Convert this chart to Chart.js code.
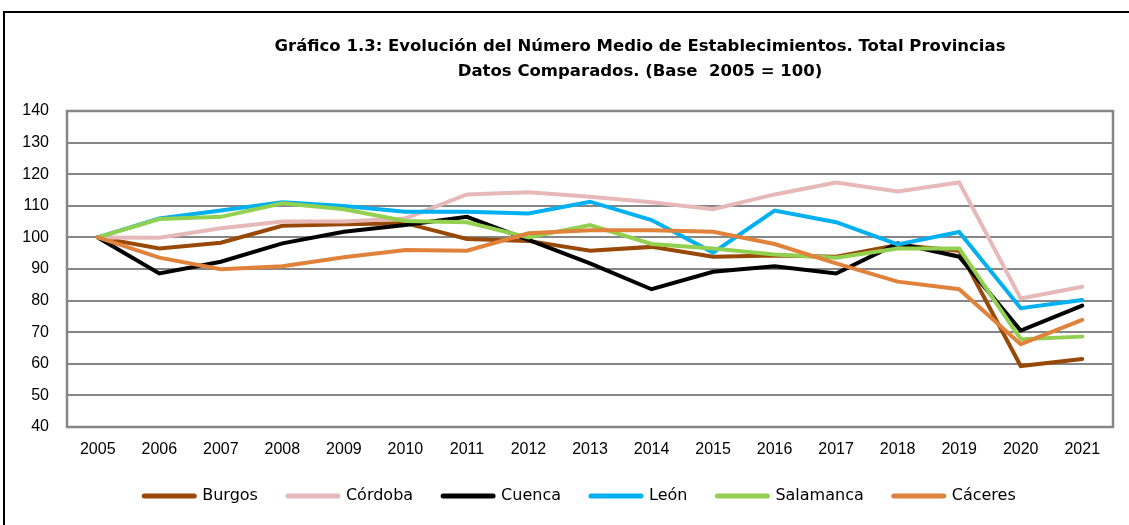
<!DOCTYPE html>
<html>
<head>
<meta charset="utf-8">
<script src="https://cdn.jsdelivr.net/npm/chart.js@4.4.1/dist/chart.umd.min.js"></script>
<style>
  html, body { margin: 0; padding: 0; background: #fff; }
  #wrap { width: 1129px; height: 525px; position: relative; }
</style>
</head>
<body>
<div id="wrap"><canvas id="c" width="1129" height="525"></canvas></div>
<script>
const years = ['2005','2006','2007','2008','2009','2010','2011','2012','2013','2014','2015','2016','2017','2018','2019','2020','2021'];
const burgos    = [100, 96.5, 98.3, 103.7, 104.2, 104.5, 99.5, 98.9, 95.8, 97.0, 93.9, 94.3, 93.9, 97.6, 95.8, 59.3, 61.5];
const cordoba   = [100, 99.9, 102.9, 105.0, 105.0, 106.0, 113.6, 114.3, 112.9, 111.1, 108.9, 113.6, 117.4, 114.5, 117.4, 80.7, 84.4];
const cuenca    = [100, 88.6, 92.3, 98.1, 101.8, 103.9, 106.5, 99.2, 91.8, 83.6, 89.1, 90.9, 88.6, 98.1, 93.9, 70.5, 78.4];
const leon      = [100, 106.0, 108.5, 111.1, 109.9, 108.1, 108.1, 107.6, 111.3, 105.5, 95.2, 108.5, 104.8, 97.8, 101.7, 77.6, 80.2];
const salamanca = [100, 105.8, 106.5, 110.8, 108.9, 105.2, 104.8, 100.0, 103.9, 97.9, 96.5, 94.6, 93.6, 96.5, 96.5, 67.8, 68.6];
const caceres   = [100, 93.6, 89.9, 90.9, 93.7, 96.0, 95.8, 101.3, 102.3, 102.3, 101.8, 97.9, 91.8, 86.0, 83.6, 66.2, 73.9];
const seriesNames = ['Burgos','Córdoba','Cuenca','León','Salamanca','Cáceres'];
const seriesData = [burgos, cordoba, cuenca, leon, salamanca, caceres];
const seriesColors = ['#984807','#E6B9B8','#000000','#00B0F0','#92D050','#E0823B'];
const titleLines = ['Gráfico 1.3: Evolución del Número Medio de Establecimientos. Total Provincias', 'Datos Comparados. (Base  2005 = 100)'];

const FONT = '"Liberation Sans", Arial, sans-serif';
const FONT2 = '"DejaVu Sans", Verdana, sans-serif';

const datasets = seriesNames.map((n, i) => ({
  label: n,
  data: seriesData[i],
  borderColor: seriesColors[i],
  backgroundColor: seriesColors[i],
  borderWidth: 4,
  borderCapStyle: 'round',
  pointRadius: 0,
  pointHoverRadius: 0,
  tension: 0,
  fill: false,
  order: seriesNames.length - 1 - i
}));

const framePlugin = {
  id: 'frame',
  afterLayout(chart) {
    if (chart.legend) {
      chart.legend.left -= 10;
      chart.legend.right -= 10;
    }
  },
  beforeDraw(chart) {
    const ctx = chart.ctx;
    ctx.save();
    ctx.fillStyle = '#fff';
    ctx.fillRect(0, 0, chart.width, chart.height);
    ctx.strokeStyle = '#000';
    ctx.lineWidth = 2;
    ctx.beginPath();
    ctx.moveTo(4, 530);
    ctx.lineTo(4, 12);
    ctx.lineTo(1135, 12);
    ctx.stroke();
    // title
    ctx.fillStyle = '#000';
    ctx.font = 'bold 16.5px ' + FONT2;
    ctx.textAlign = 'center';
    ctx.textBaseline = 'middle';
    ctx.fillText(titleLines[0], 640, 47);
    ctx.fillText(titleLines[1], 640, 72);
    ctx.restore();
  },
  beforeDatasetsDraw(chart) {
    const a = chart.chartArea;
    const ctx = chart.ctx;
    ctx.save();
    ctx.strokeStyle = '#868686';
    ctx.lineWidth = 2.5;
    ctx.strokeRect(a.left, a.top, a.right - a.left, a.bottom - a.top);
    ctx.restore();
  }
};

new Chart(document.getElementById('c'), {
  type: 'line',
  data: { labels: years, datasets },
  plugins: [framePlugin],
  options: {
    responsive: false,
    animation: false,
    events: [],
    layout: { padding: { left: 0, right: 16, top: 111, bottom: 11 } },
    plugins: {
      title: { display: false },
      tooltip: { enabled: false },
      legend: {
        display: true,
        position: 'bottom',
        fullSize: false,
        reverse: true,
        labels: {
          usePointStyle: true,
          pointStyle: 'line',
          pointStyleWidth: 50,
          boxWidth: 50,
          boxHeight: 16,
          padding: 30,
          color: '#000',
          font: { family: FONT2, size: 16 },
          generateLabels(chart) {
            const items = Chart.defaults.plugins.legend.labels.generateLabels(chart);
            items.forEach(it => { it.lineWidth = 5; it.lineCap = 'round'; });
            return items;
          }
        }
      }
    },
    scales: {
      x: {
        offset: true,
        grid: { display: false, drawTicks: false },
        border: { display: false },
        ticks: { color: '#000', padding: 13, maxRotation: 0, autoSkip: false, font: { family: FONT, size: 16 } },
        afterFit(s) { s.height = 31; }
      },
      y: {
        min: 40, max: 140,
        grid: { color: '#868686', lineWidth: 2, drawTicks: false },
        border: { display: false },
        ticks: { stepSize: 10, color: '#000', padding: 18, font: { family: FONT, size: 16 } },
        afterFit(s) { s.width = 67; }
      }
    }
  }
});
</script>
</body>
</html>
